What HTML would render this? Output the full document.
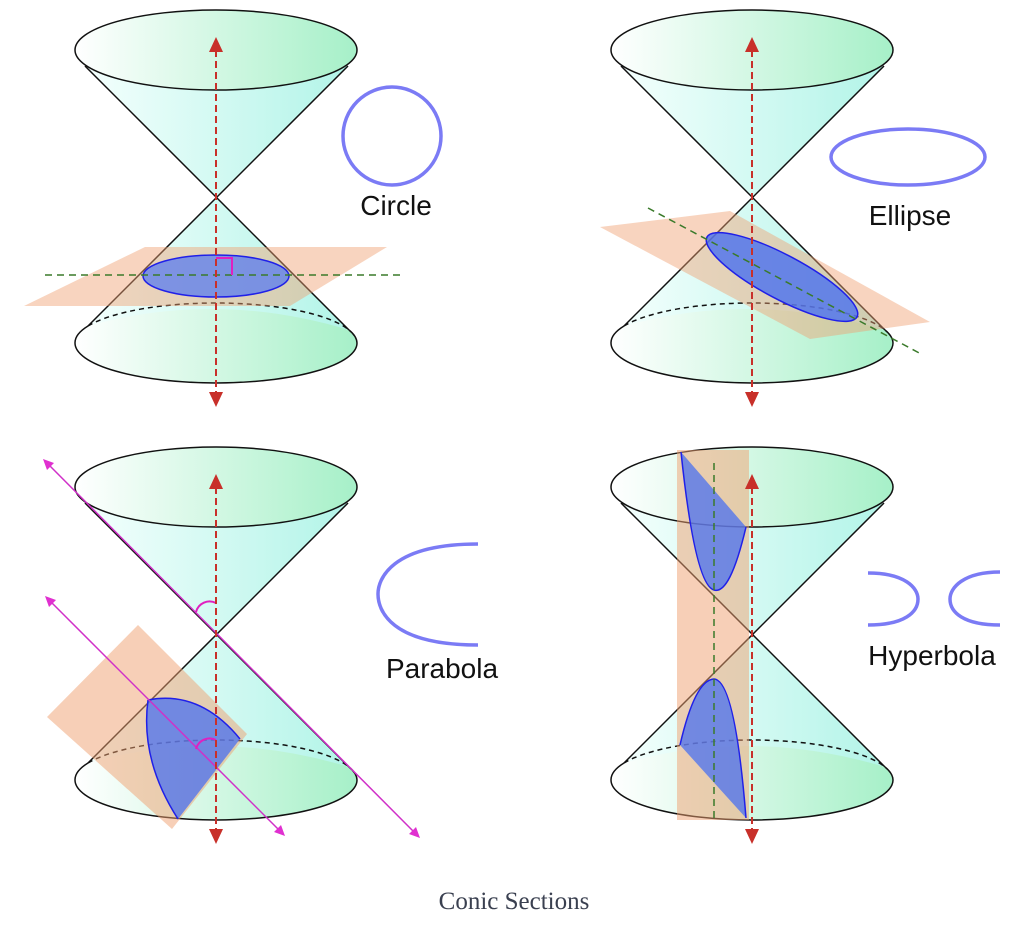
<!DOCTYPE html>
<html><head><meta charset="utf-8"><style>
html,body{margin:0;padding:0;background:#fff;}
svg{display:block}
text{font-family:"Liberation Sans",sans-serif;fill:#111}
</style></head><body>
<svg width="1028" height="932" viewBox="0 0 1028 932" xmlns="http://www.w3.org/2000/svg">
<defs>
<linearGradient id="gTop" gradientUnits="userSpaceOnUse" x1="75" y1="0" x2="357" y2="0">
<stop offset="0" stop-color="#ffffff"/><stop offset="1" stop-color="#a6f0c8"/></linearGradient>
<linearGradient id="gBody" gradientUnits="userSpaceOnUse" x1="85" y1="0" x2="349" y2="0">
<stop offset="0" stop-color="#f4fffd"/><stop offset="1" stop-color="#b2f4e8"/></linearGradient>
<g id="cone">
<ellipse cx="216" cy="343" rx="141" ry="40" fill="url(#gTop)"/>
<path d="M216,197 L88,326 Q216,290 349,330 Z" fill="url(#gBody)"/>
<path d="M85,66 L216,197 L348,66 Q216,100 85,66 Z" fill="url(#gBody)"/>
<ellipse cx="216" cy="50" rx="141" ry="40" fill="url(#gTop)" stroke="#111" stroke-width="1.5"/>
<path d="M85,66 L349,330 M348,66 L88,326" stroke="#111" stroke-width="1.5" fill="none"/>
<path d="M88,326 A141,40 0 0 1 349,330" stroke="#111" stroke-width="1.5" fill="none" stroke-dasharray="5,4"/>
<path d="M88,326 A141,40 0 0 0 75,343 A141,40 0 0 0 357,343 A141,40 0 0 0 349,330" stroke="#111" stroke-width="1.5" fill="none"/>
</g>
<g id="axis">
<path d="M216,50 L216,392" stroke="#c8302a" stroke-width="2" stroke-dasharray="7,4"/>
<path d="M209,52 L216,37 L223,52 Z M209,392 L216,407 L223,392 Z" fill="#c8302a"/>
</g>
</defs>

<!-- Panel 1: Circle -->
<use href="#cone"/>
<polygon points="145,247 387,247 290,306 24,306" fill="#f0a070" fill-opacity="0.45"/>
<ellipse cx="216" cy="276" rx="73" ry="21" fill="#5a7cf0" fill-opacity="0.75" stroke="#2020e8" stroke-width="1.5"/>
<path d="M45,275 L403,275" stroke="#3a7a2a" stroke-width="1.5" stroke-dasharray="7,5"/>
<path d="M216,258 L232,258 L232,275" stroke="#e020c0" stroke-width="2" fill="none"/>
<use href="#axis"/>
<circle cx="392" cy="136" r="49" fill="none" stroke="#7b7bf5" stroke-width="3.5"/>
<text x="396" y="215" font-size="28" text-anchor="middle">Circle</text>

<!-- Panel 2: Ellipse -->
<use href="#cone" transform="translate(536,0)"/>
<polygon points="600,227 730,211 930,322 810,339" fill="#f0a070" fill-opacity="0.45"/>
<ellipse cx="782" cy="277" rx="85" ry="22" transform="rotate(28 782 277)" fill="#4a70f0" fill-opacity="0.8" stroke="#2020e8" stroke-width="1.5"/>
<path d="M648,208 L923,355" stroke="#3a7a2a" stroke-width="1.5" stroke-dasharray="7,5"/>
<use href="#axis" transform="translate(536,0)"/>
<ellipse cx="908" cy="157" rx="77" ry="28" fill="none" stroke="#7b7bf5" stroke-width="3.5"/>
<text x="910" y="225" font-size="28" text-anchor="middle">Ellipse</text>

<!-- Panel 3: Parabola -->
<use href="#cone" transform="translate(0,437)"/>
<polygon points="138,625 247,734 172,829 47,717" fill="#f0a070" fill-opacity="0.5"/>
<path d="M148,700 Q200,690 240,739 L178,819 Q140,760 148,700 Z" fill="#4a70f0" fill-opacity="0.75"/>
<path d="M148,700 Q200,690 240,739 M178,819 Q140,760 148,700" stroke="#2020e8" stroke-width="1.5" fill="none"/>
<path d="M49,465 L414,832" stroke="#d030c8" stroke-width="1.5"/>
<path d="M43,459 L54,463 L47,470 Z M420,838 L409,834 L416,827 Z" fill="#e030d0"/>
<path d="M51,602 L279,830" stroke="#d030c8" stroke-width="1.5"/>
<path d="M45,596 L56,600 L49,607 Z M285,836 L274,832 L281,825 Z" fill="#e030d0"/>
<path d="M196,612 A14,14 0 0 1 216,603" stroke="#e020c0" stroke-width="2" fill="none"/>
<path d="M196,749 A14,14 0 0 1 216,740" stroke="#e020c0" stroke-width="2" fill="none"/>
<use href="#axis" transform="translate(0,437)"/>
<path d="M478,544 C390,544 378,580 378,594 C378,610 390,645 478,645" fill="none" stroke="#7b7bf5" stroke-width="3.5"/>
<text x="442" y="678" font-size="28" text-anchor="middle">Parabola</text>

<!-- Panel 4: Hyperbola -->
<use href="#cone" transform="translate(536,437)"/>
<rect x="677" y="450" width="72" height="370" fill="#f0a070" fill-opacity="0.5"/>
<path d="M681,452 L746,527 Q730,595 714,590 Q695,585 681,452 Z" fill="#4a70f0" fill-opacity="0.75"/>
<path d="M746,527 Q730,595 714,590 Q695,585 681,452" stroke="#2020e8" stroke-width="1.5" fill="none"/>
<path d="M680,745 L746,818 Q735,680 714,679 Q695,680 680,745 Z" fill="#4a70f0" fill-opacity="0.75"/>
<path d="M746,818 Q735,680 714,679 Q695,680 680,745" stroke="#2020e8" stroke-width="1.5" fill="none"/>
<path d="M714,463 L714,820" stroke="#3a7a2a" stroke-width="1.5" stroke-dasharray="7,5"/>
<use href="#axis" transform="translate(536,437)"/>
<path d="M868,573 C905,573 918,588 918,599 C918,612 905,625 868,625" fill="none" stroke="#7b7bf5" stroke-width="3.5"/>
<path d="M1000,572 C963,572 950,588 950,599 C950,612 963,625 1000,625" fill="none" stroke="#7b7bf5" stroke-width="3.5"/>
<text x="932" y="665" font-size="28" text-anchor="middle">Hyperbola</text>

<text x="514" y="909" font-size="25" text-anchor="middle" style="font-family:'Liberation Serif',serif;fill:#3a4050">Conic Sections</text>
</svg>
</body></html>
